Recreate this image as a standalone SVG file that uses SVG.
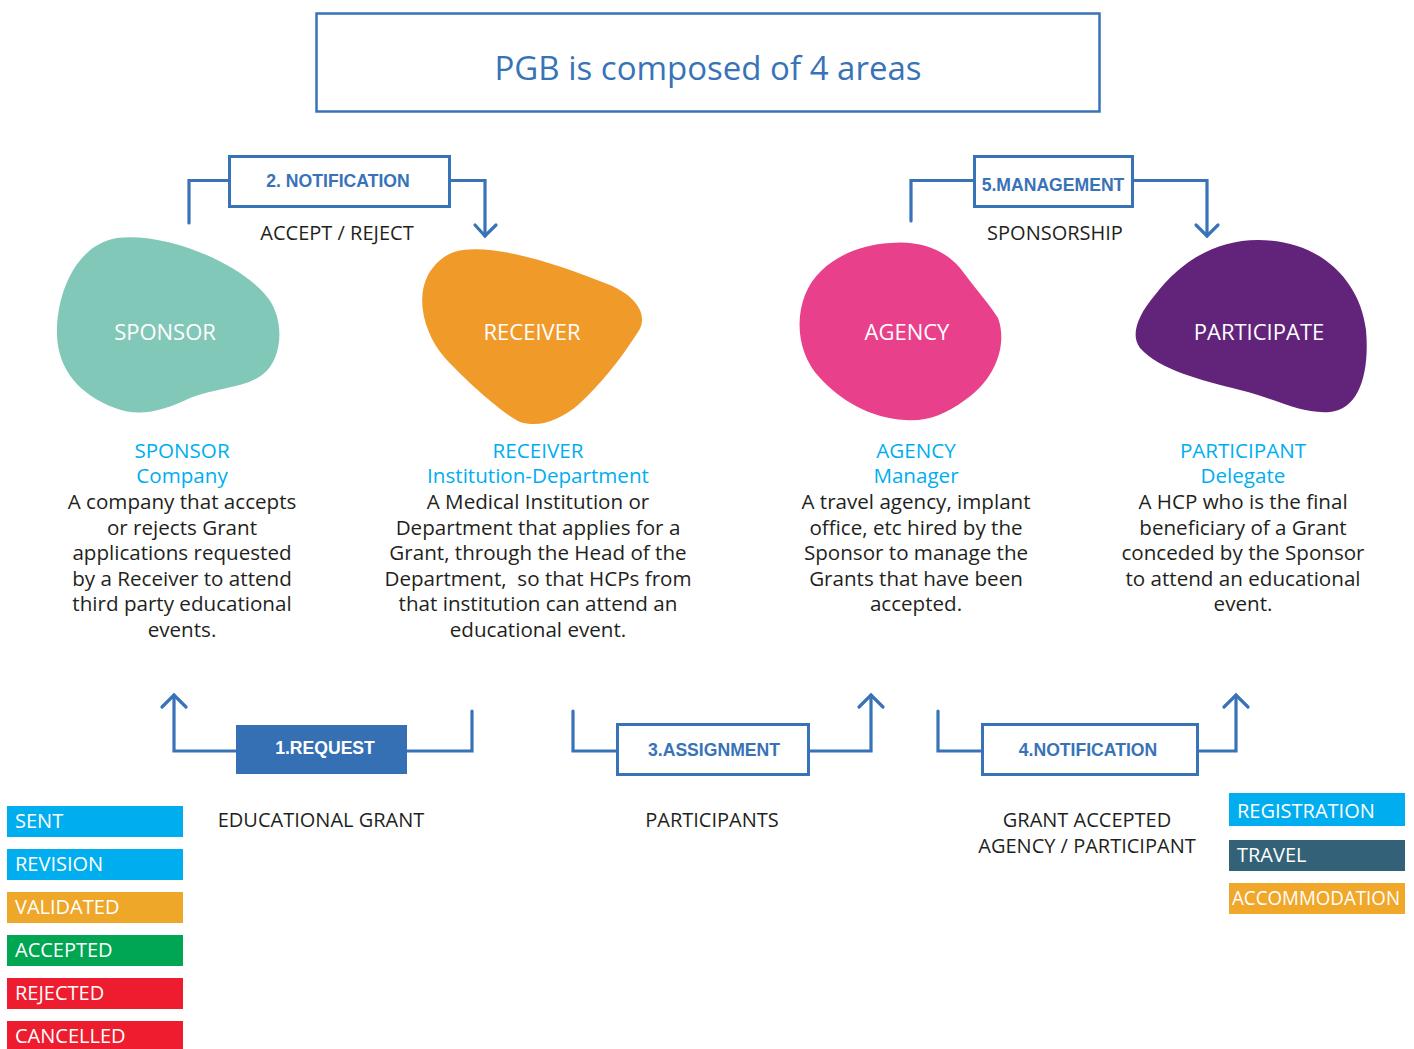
<svg xmlns="http://www.w3.org/2000/svg" width="1414" height="1049" viewBox="0 0 1414 1049">
<defs>
<style>
.conn{fill:none;stroke:#3873b7;stroke-width:3.2;stroke-linecap:round;stroke-linejoin:miter}
.box{fill:#fff;stroke:#3873b7;stroke-width:3}
.boxlbl{font-family:"Liberation Sans",Arial,sans-serif;font-weight:bold;font-size:17.6px;fill:#3873b7;text-anchor:middle}
.blobtxt{font-family:"Open Sans","Noto Sans",sans-serif;font-size:22px;fill:#fff;text-anchor:middle}
.head{font-family:"Open Sans","Noto Sans",sans-serif;font-size:20.6px;fill:#00aeef;text-anchor:middle}
.body{font-family:"Open Sans","Noto Sans",sans-serif;font-size:20.6px;fill:#231f20;text-anchor:middle}
.cap{font-family:"Open Sans","Noto Sans",sans-serif;font-size:20px;fill:#231f20;text-anchor:middle}
.leg{font-family:"Open Sans","Noto Sans",sans-serif;font-size:20px;fill:#fff}
</style>
</defs>
<rect width="1414" height="1049" fill="#fff"/>

<g id="title">
<rect x="316.5" y="13.5" width="783" height="98" fill="#fff" stroke="#3873b7" stroke-width="2.5"/>
<text x="708" y="80" font-family="Open Sans, Noto Sans, sans-serif" font-size="33" fill="#3873b7" text-anchor="middle">PGB is composed of 4 areas</text>
</g>

<g id="connectors">
<polyline class="conn" points="189,223 189,180.5 229,180.5"/>
<polyline class="conn" points="449,180.5 485,180.5 485,236"/>
<polyline class="conn" points="475,225 485,236 496,225"/>
<polyline class="conn" points="911,221 911,180.5 973,180.5"/>
<polyline class="conn" points="1131,180.5 1207,180.5 1207,236"/>
<polyline class="conn" points="1196,225 1207,236 1218,225"/>
<polyline class="conn" points="174,695 174,751 236,751"/>
<polyline class="conn" points="162,707 174,695 186,707"/>
<polyline class="conn" points="407,751 472,751 472,711"/>
<polyline class="conn" points="573,711 573,751 616,751"/>
<polyline class="conn" points="809,751 871,751 871,695"/>
<polyline class="conn" points="859,707 871,695 883,707"/>
<polyline class="conn" points="938,711 938,751 982,751"/>
<polyline class="conn" points="1198,751 1236,751 1236,695"/>
<polyline class="conn" points="1224,707 1236,695 1248,707"/>
</g>

<g id="notification2">
<rect class="box" x="229.5" y="156.5" width="220" height="50"/>
<text class="boxlbl" x="338" y="187">2. NOTIFICATION</text>
<text class="cap" x="337" y="240">ACCEPT / REJECT</text>
</g>

<g id="management5">
<rect class="box" x="974.5" y="156.5" width="158" height="50"/>
<text class="boxlbl" x="1053" y="191">5.MANAGEMENT</text>
<text class="cap" x="1055" y="240">SPONSORSHIP</text>
</g>

<g id="request1">
<rect x="236" y="725" width="171" height="49" fill="#3470b3"/>
<text class="boxlbl" x="325" y="754" style="fill:#fff">1.REQUEST</text>
<text class="cap" x="321" y="827">EDUCATIONAL GRANT</text>
</g>

<g id="assignment3">
<rect class="box" x="617.5" y="724.5" width="191" height="50"/>
<text class="boxlbl" x="714" y="756">3.ASSIGNMENT</text>
<text class="cap" x="712" y="827">PARTICIPANTS</text>
</g>

<g id="notification4">
<rect class="box" x="982.5" y="724.5" width="215" height="50"/>
<text class="boxlbl" x="1088" y="756">4.NOTIFICATION</text>
<text class="cap" x="1087" y="827">GRANT ACCEPTED</text>
<text class="cap" x="1087" y="853">AGENCY / PARTICIPANT</text>
</g>

<g id="sponsor">
<path d="M117,238 C165,232 240,262 268,298 C285,320 283,360 262,375 C245,388 215,388 190,398 C165,410 140,418 115,408 C80,395 58,370 57,335 C56,295 75,245 117,238 Z" fill="#82c8b9"/>
<text class="blobtxt" x="165" y="340">SPONSOR</text>
<text class="head" x="182" y="458">SPONSOR</text>
<text class="head" x="182" y="483">Company</text>
<text class="body" x="182" y="509">A company that accepts</text>
<text class="body" x="182" y="535">or rejects Grant</text>
<text class="body" x="182" y="560">applications requested</text>
<text class="body" x="182" y="586">by a Receiver to attend</text>
<text class="body" x="182" y="611">third party educational</text>
<text class="body" x="182" y="637">events.</text>
</g>

<g id="receiver">
<path d="M463,250 C500,245 560,265 610,285 C640,298 648,318 638,332 C620,360 600,385 578,405 C560,420 540,428 520,422 C505,415 470,385 445,358 C425,335 415,300 428,275 C438,258 450,252 463,250 Z" fill="#f09a2a"/>
<text class="blobtxt" x="532" y="340">RECEIVER</text>
<text class="head" x="538" y="458">RECEIVER</text>
<text class="head" x="538" y="483">Institution-Department</text>
<text class="body" x="538" y="509">A Medical Institution or</text>
<text class="body" x="538" y="535">Department that applies for a</text>
<text class="body" x="538" y="560">Grant, through the Head of the</text>
<text class="body" x="538" y="586" xml:space="preserve">Department,  so that HCPs from</text>
<text class="body" x="538" y="611">that institution can attend an</text>
<text class="body" x="538" y="637">educational event.</text>
</g>

<g id="agency">
<path d="M890,243 C920,240 945,250 960,268 C975,288 990,305 998,318 C1008,345 995,380 965,400 C945,415 925,422 905,420 C870,418 840,400 820,378 C798,355 795,320 805,295 C818,262 855,245 890,243 Z" fill="#e8408a"/>
<text class="blobtxt" x="907" y="340">AGENCY</text>
<text class="head" x="916" y="458">AGENCY</text>
<text class="head" x="916" y="483">Manager</text>
<text class="body" x="916" y="509">A travel agency, implant</text>
<text class="body" x="916" y="535">office, etc hired by the</text>
<text class="body" x="916" y="560">Sponsor to manage the</text>
<text class="body" x="916" y="586">Grants that have been</text>
<text class="body" x="916" y="611">accepted.</text>
</g>

<g id="participate">
<path d="M1258,240 C1320,240 1360,280 1366,330 C1370,375 1358,410 1330,412 C1300,414 1280,400 1240,390 C1200,380 1160,370 1140,348 C1130,335 1138,315 1155,295 C1180,262 1215,240 1258,240 Z" fill="#62237a"/>
<text class="blobtxt" x="1259" y="340">PARTICIPATE</text>
<text class="head" x="1243" y="458">PARTICIPANT</text>
<text class="head" x="1243" y="483">Delegate</text>
<text class="body" x="1243" y="509">A HCP who is the final</text>
<text class="body" x="1243" y="535">beneficiary of a Grant</text>
<text class="body" x="1243" y="560">conceded by the Sponsor</text>
<text class="body" x="1243" y="586">to attend an educational</text>
<text class="body" x="1243" y="611">event.</text>
</g>

<g id="legend-status">
<rect x="7" y="806" width="176" height="31" fill="#00aeef"/>
<text class="leg" x="15" y="828">SENT</text>
<rect x="7" y="849" width="176" height="31" fill="#00aeef"/>
<text class="leg" x="15" y="871">REVISION</text>
<rect x="7" y="892" width="176" height="31" fill="#eea729"/>
<text class="leg" x="15" y="914">VALIDATED</text>
<rect x="7" y="935" width="176" height="31" fill="#00a651"/>
<text class="leg" x="15" y="957">ACCEPTED</text>
<rect x="7" y="978" width="176" height="31" fill="#ed1c2e"/>
<text class="leg" x="15" y="1000">REJECTED</text>
<rect x="7" y="1021" width="176" height="31" fill="#ed1c2e"/>
<text class="leg" x="15" y="1043">CANCELLED</text>
</g>

<g id="legend-services">
<rect x="1229" y="793" width="176" height="33" fill="#00aeef"/>
<text class="leg" x="1237" y="818">REGISTRATION</text>
<rect x="1229" y="840" width="176" height="31" fill="#336278"/>
<text class="leg" x="1237" y="862">TRAVEL</text>
<rect x="1229" y="883" width="176" height="31" fill="#f0a72a"/>
<text class="leg" x="1232" y="905" textLength="168" lengthAdjust="spacingAndGlyphs">ACCOMMODATION</text>
</g>
</svg>
